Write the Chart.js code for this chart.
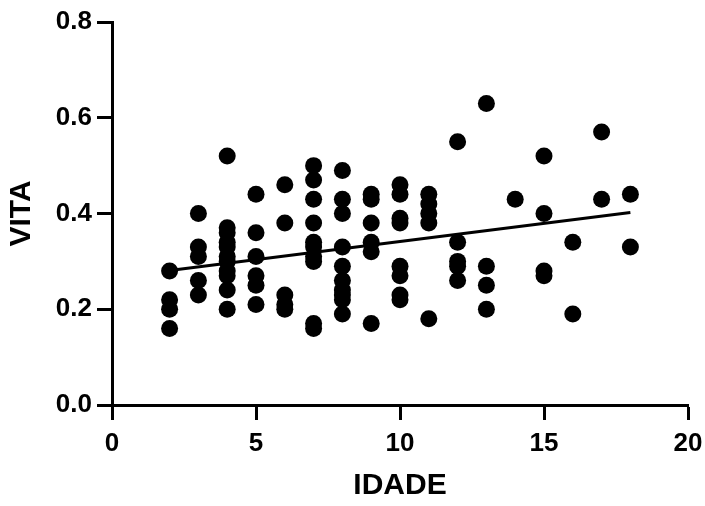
<!DOCTYPE html>
<html>
<head>
<meta charset="utf-8">
<script src="https://cdn.jsdelivr.net/npm/chart.js@4"></script>
<style>
  body { margin: 0; background: #fff; }
</style>
</head>
<body>
<canvas id="scatterChart" width="705" height="506"></canvas>
<script>
// IDADE / VITA pairs
const idade = [
  2, 2, 2, 2,
  3, 3, 3, 3, 3,
  4, 4, 4, 4, 4, 4, 4, 4, 4, 4, 4,
  5, 5, 5, 5, 5, 5,
  6, 6, 6, 6, 6,
  7, 7, 7, 7, 7, 7, 7, 7, 7, 7,
  8, 8, 8, 8, 8, 8, 8, 8, 8, 8,
  9, 9, 9, 9, 9, 9,
  10, 10, 10, 10, 10, 10, 10, 10,
  11, 11, 11, 11, 11,
  12, 12, 12, 12, 12,
  13, 13, 13, 13,
  14,
  15, 15, 15, 15,
  16, 16,
  17, 17,
  18, 18
];
const vita = [
  0.28, 0.22, 0.20, 0.16,
  0.40, 0.33, 0.31, 0.26, 0.23,
  0.52, 0.37, 0.36, 0.34, 0.33, 0.31, 0.30, 0.28, 0.27, 0.24, 0.20,
  0.44, 0.36, 0.31, 0.27, 0.25, 0.21,
  0.46, 0.38, 0.23, 0.21, 0.20,
  0.50, 0.47, 0.43, 0.38, 0.34, 0.33, 0.31, 0.30, 0.17, 0.16,
  0.49, 0.43, 0.40, 0.33, 0.29, 0.26, 0.24, 0.23, 0.22, 0.19,
  0.44, 0.43, 0.38, 0.34, 0.32, 0.17,
  0.46, 0.44, 0.39, 0.38, 0.29, 0.27, 0.23, 0.22,
  0.44, 0.42, 0.40, 0.38, 0.18,
  0.55, 0.34, 0.30, 0.29, 0.26,
  0.63, 0.29, 0.25, 0.20,
  0.43,
  0.52, 0.40, 0.28, 0.27,
  0.34, 0.19,
  0.57, 0.43,
  0.44, 0.33
];

// fitted line ends, as drawn
const fitX = [2, 18];
const fitY = [0.281, 0.402];

const xTicks = [0, 5, 10, 15, 20];
const yTicks = [0.0, 0.2, 0.4, 0.6, 0.8];

const points = idade.map((x, i) => ({ x: x, y: vita[i] }));
const fitLine = fitX.map((x, i) => ({ x: x, y: fitY[i] }));

const tickFont = { family: 'Liberation Sans, Arial, sans-serif', size: 26, weight: 'bold' };
const titleFont = { family: 'Liberation Sans, Arial, sans-serif', size: 30, weight: 'bold' };

const axisGrid = {
    display: true,
    drawOnChartArea: false,
    drawTicks: true,
    tickLength: 15,
    tickWidth: 3,
    tickColor: '#000'
};
const axisBorder = { display: true, color: '#000', width: 3 };

const ctx = document.getElementById('scatterChart').getContext('2d');
const chart = new Chart(ctx, {
    type: 'scatter',
    data: {
        datasets: [
            {
                label: 'VITA',
                data: points,
                backgroundColor: '#000',
                borderColor: '#000',
                borderWidth: 0,
                pointRadius: 8.5,
                pointHoverRadius: 8.5
            },
            {
                type: 'line',
                label: 'Fit',
                data: fitLine,
                borderColor: '#000',
                borderWidth: 3,
                pointRadius: 0,
                fill: false
            }
        ]
    },
    options: {
        responsive: false,
        animation: false,
        events: [],
        layout: { padding: { top: 22, right: 17, left: 0, bottom: 0 } },
        plugins: {
            legend: { display: false },
            tooltip: { enabled: false }
        },
        scales: {
            x: {
                type: 'linear',
                min: 0,
                max: 20,
                afterBuildTicks: scale => { scale.ticks = xTicks.map(v => ({ value: v })); },
                afterFit: scale => {
                    scale.height = 101;
                    scale.paddingLeft = 0;
                    scale.paddingRight = 0;
                },
                grid: axisGrid,
                border: axisBorder,
                ticks: { color: '#000', font: tickFont, padding: 8, maxRotation: 0 },
                title: {
                    display: true,
                    text: 'IDADE',
                    color: '#000',
                    font: titleFont,
                    padding: { top: 0, bottom: 2 }
                }
            },
            y: {
                type: 'linear',
                min: 0,
                max: 0.8,
                afterBuildTicks: scale => { scale.ticks = yTicks.map(v => ({ value: v })); },
                afterFit: scale => { scale.width = 112; },
                grid: axisGrid,
                border: axisBorder,
                ticks: {
                    color: '#000',
                    font: tickFont,
                    padding: 5,
                    callback: v => v.toFixed(1)
                },
                title: {
                    display: true,
                    text: 'VITA',
                    color: '#000',
                    font: titleFont,
                    padding: { top: 4, bottom: 0 }
                }
            }
        }
    }
});
</script>
</body>
</html>
